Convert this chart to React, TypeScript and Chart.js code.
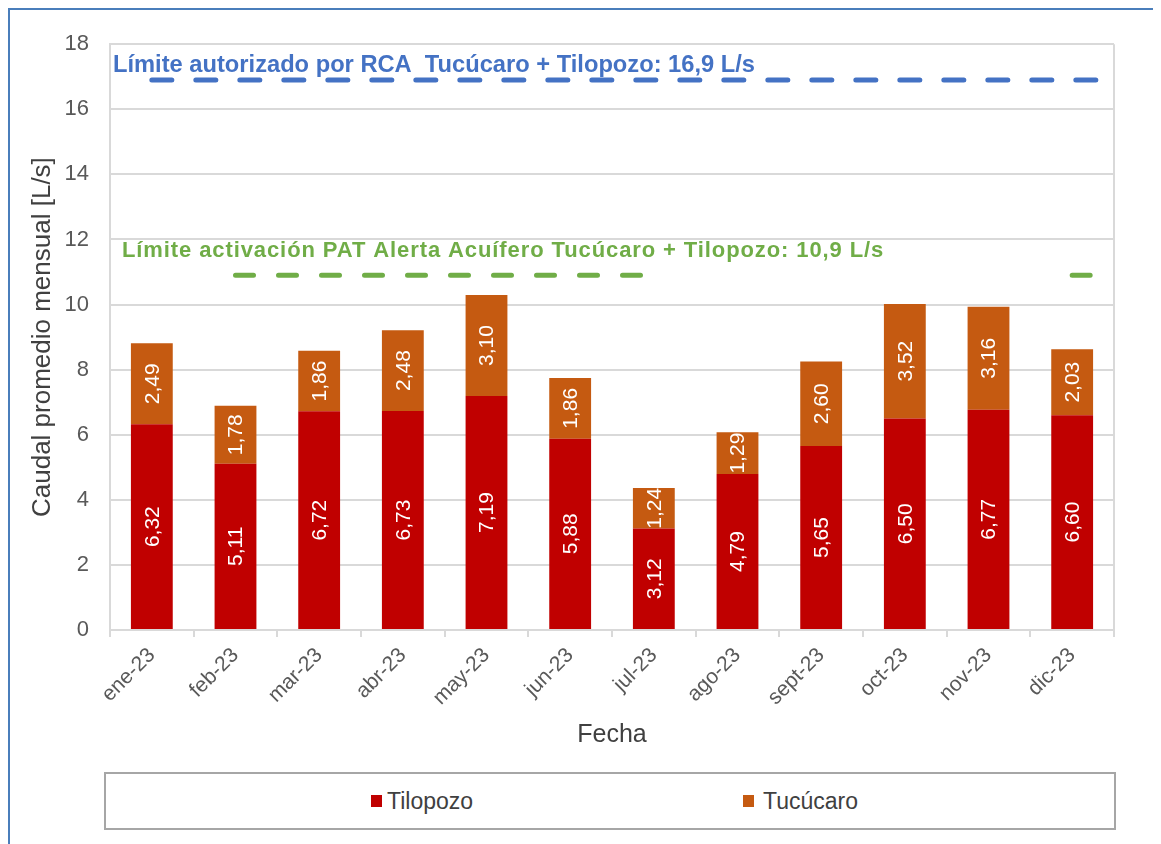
import React, { useEffect, useRef } from "react";
import { Chart, registerables } from "chart.js";

Chart.register(...registerables);

const categories = ["ene-23", "feb-23", "mar-23", "abr-23", "may-23", "jun-23", "jul-23", "ago-23", "sept-23", "oct-23", "nov-23", "dic-23"];
const tilopozo = [6.32, 5.11, 6.72, 6.73, 7.19, 5.88, 3.12, 4.79, 5.65, 6.5, 6.77, 6.6];
const tucucaro = [2.49, 1.78, 1.86, 2.48, 3.1, 1.86, 1.24, 1.29, 2.6, 3.52, 3.16, 2.03];
const yTicks = [0, 2, 4, 6, 8, 10, 12, 14, 16, 18];

const limitRCA = 16.9;
const limitPAT = 10.9;
// positions along the month axis (0 = left edge, 12 = right edge) where the limit lines run
const rcaLineX: (number | null)[] = [0.5, 12];
const patLineX: (number | null)[] = [1.5, 6.5, null, 11.5, 12];

const labelRCA = "Límite autorizado por RCA  Tucúcaro + Tilopozo: 16,9 L/s";
const labelPAT = "Límite activación PAT Alerta Acuífero Tucúcaro + Tilopozo: 10,9 L/s";

const RED = "#C00000";
const ORANGE = "#C55A11";
const BLUE = "#4472C4";
const GREEN = "#70AD47";
const GRID = "#d9d9d9";
const FONT = "'Liberation Sans', Arial, sans-serif";

const barLabelsPlugin = {
  id: "barLabels",
  afterDatasetsDraw(chart: any) {
    const ctx = chart.ctx;
    chart.data.datasets.forEach((ds: any, i: number) => {
      if (ds.type === "line") return;
      const meta = chart.getDatasetMeta(i);
      meta.data.forEach((el: any, j: number) => {
        const v = ds.data[j];
        const p = el.getProps(["x", "y", "base"], true);
        ctx.save();
        ctx.translate(p.x, (p.y + p.base) / 2);
        ctx.rotate(-Math.PI / 2);
        ctx.fillStyle = "#ffffff";
        ctx.font = `21px ${FONT}`;
        ctx.textAlign = "center";
        ctx.textBaseline = "middle";
        ctx.fillText(v.toFixed(2).replace(".", ","), 0, 1);
        ctx.restore();
      });
    });
  },
};

const annotationsPlugin = {
  id: "limitTexts",
  afterDatasetsDraw(chart: any) {
    const ctx = chart.ctx;
    const area = chart.chartArea;
    const y = chart.scales.y;
    ctx.save();
    ctx.textAlign = "left";
    ctx.textBaseline = "alphabetic";
    ctx.fillStyle = BLUE;
    ctx.font = `bold 24px ${FONT}`;
    ctx.fillText(labelRCA, area.left + 3, y.getPixelForValue(limitRCA) - 7.5, 642);
    ctx.fillStyle = GREEN;
    ctx.font = `bold 22px ${FONT}`;
    try {
      (ctx as any).letterSpacing = "0.9px";
    } catch (e) {}
    ctx.fillText(labelPAT, area.left + 12, y.getPixelForValue(limitPAT) - 18.5, 765);
    try {
      (ctx as any).letterSpacing = "0px";
    } catch (e) {}
    // right frame of plot area
    ctx.strokeStyle = GRID;
    ctx.lineWidth = 2;
    ctx.beginPath();
    ctx.moveTo(area.right, area.top);
    ctx.lineTo(area.right, area.bottom + 7);
    ctx.stroke();
    ctx.restore();
  },
};

function toPoints(xs: (number | null)[], v: number) {
  return xs.map((x) => (x === null ? { x: 7, y: null } : { x, y: v }));
}

export default function App() {
  const ref = useRef<HTMLCanvasElement>(null);

  useEffect(() => {
    if (!ref.current) return;
    const chart = new Chart(ref.current, {
      type: "bar",
      data: {
        labels: categories,
        datasets: [
          {
            type: "bar",
            label: "Tilopozo",
            data: tilopozo,
            backgroundColor: RED,
            borderWidth: 0,
            barPercentage: 1,
            categoryPercentage: 0.5,
            grouped: false,
            stack: "s",
          },
          {
            type: "bar",
            label: "Tucúcaro",
            data: tucucaro,
            backgroundColor: ORANGE,
            borderWidth: 0,
            barPercentage: 1,
            categoryPercentage: 0.5,
            grouped: false,
            stack: "s",
          },
          {
            type: "line",
            label: "RCA",
            data: toPoints(rcaLineX, limitRCA) as any,
            xAxisID: "xl",
            stack: "rca",
            borderColor: BLUE,
            borderWidth: 5,
            borderDash: [20, 24],
            borderCapStyle: "round",
            pointRadius: 0,
            spanGaps: false,
            fill: false,
          },
          {
            type: "line",
            label: "PAT",
            data: toPoints(patLineX, limitPAT) as any,
            xAxisID: "xl",
            stack: "pat",
            borderColor: GREEN,
            borderWidth: 5,
            borderDash: [18, 25],
            borderCapStyle: "round",
            pointRadius: 0,
            spanGaps: false,
            fill: false,
          },
        ] as any,
      },
      options: {
        responsive: false,
        maintainAspectRatio: false,
        animation: false,
        layout: { padding: { top: 33, right: 47, left: 0, bottom: 0 } },
        plugins: {
          legend: { display: false },
          tooltip: { enabled: false },
          title: { display: false },
        },
        scales: {
          x: {
            stacked: true,
            offset: true,
            afterFit(scale: any) {
              scale.height = 130;
            },
            grid: {
              display: true,
              drawOnChartArea: false,
              drawTicks: true,
              tickLength: 7,
              color: GRID,
              lineWidth: 2,
              offset: true,
            },
            border: { display: true, color: GRID, width: 2 },
            ticks: {
              color: "#595959",
              font: { family: FONT, size: 21 },
              maxRotation: 45,
              minRotation: 45,
              padding: 6,
              autoSkip: false,
            },
            title: {
              display: true,
              text: "Fecha",
              color: "#404040",
              font: { family: FONT, size: 25 },
              padding: { top: 0, bottom: 10 },
            },
          },
          xl: {
            type: "linear",
            display: false,
            offset: false,
            grid: { offset: false },
            bounds: "data",
            min: 0,
            max: 12,
          },
          y: {
            stacked: true,
            min: 0,
            max: 18,
            afterFit(scale: any) {
              scale.width = 100;
            },
            afterBuildTicks(scale: any) {
              scale.ticks = yTicks.map((v) => ({ value: v }));
            },
            grid: { color: GRID, lineWidth: 2, drawTicks: false },
            border: { display: true, color: GRID, width: 2 },
            ticks: {
              color: "#595959",
              font: { family: FONT, size: 22 },
              padding: 21,
            },
            title: {
              display: true,
              text: "Caudal promedio mensual [L/s]",
              color: "#404040",
              font: { family: FONT, size: 26 },
              padding: { top: 17, bottom: 0 },
            },
          },
        },
      } as any,
      plugins: [barLabelsPlugin, annotationsPlugin],
    });
    return () => chart.destroy();
  }, []);

  const legendText: React.CSSProperties = {
    position: "absolute",
    top: 779,
    fontFamily: FONT,
    fontSize: 23,
    lineHeight: "24px",
    color: "#404040",
    whiteSpace: "nowrap",
  };

  return (
    <div
      style={{
        position: "relative",
        width: 1153,
        height: 836,
        boxSizing: "border-box",
        borderLeft: "2px solid #4a7ebb",
        borderTop: "2px solid #4a7ebb",
        overflow: "hidden",
        background: "#ffffff",
      }}
    >
      <canvas ref={ref} width={1151} height={750} style={{ position: "absolute", left: 0, top: 0 }} />
      <div
        style={{
          position: "absolute",
          left: 94,
          top: 762,
          width: 1012,
          height: 58,
          boxSizing: "border-box",
          border: "2px solid #a6a6a6",
        }}
      />
      <div style={{ position: "absolute", left: 361, top: 785, width: 11, height: 12, background: RED }} />
      <span style={{ ...legendText, left: 377 }}>Tilopozo</span>
      <div style={{ position: "absolute", left: 733, top: 785, width: 11, height: 12, background: ORANGE }} />
      <span style={{ ...legendText, left: 753 }}>Tucúcaro</span>
    </div>
  );
}
